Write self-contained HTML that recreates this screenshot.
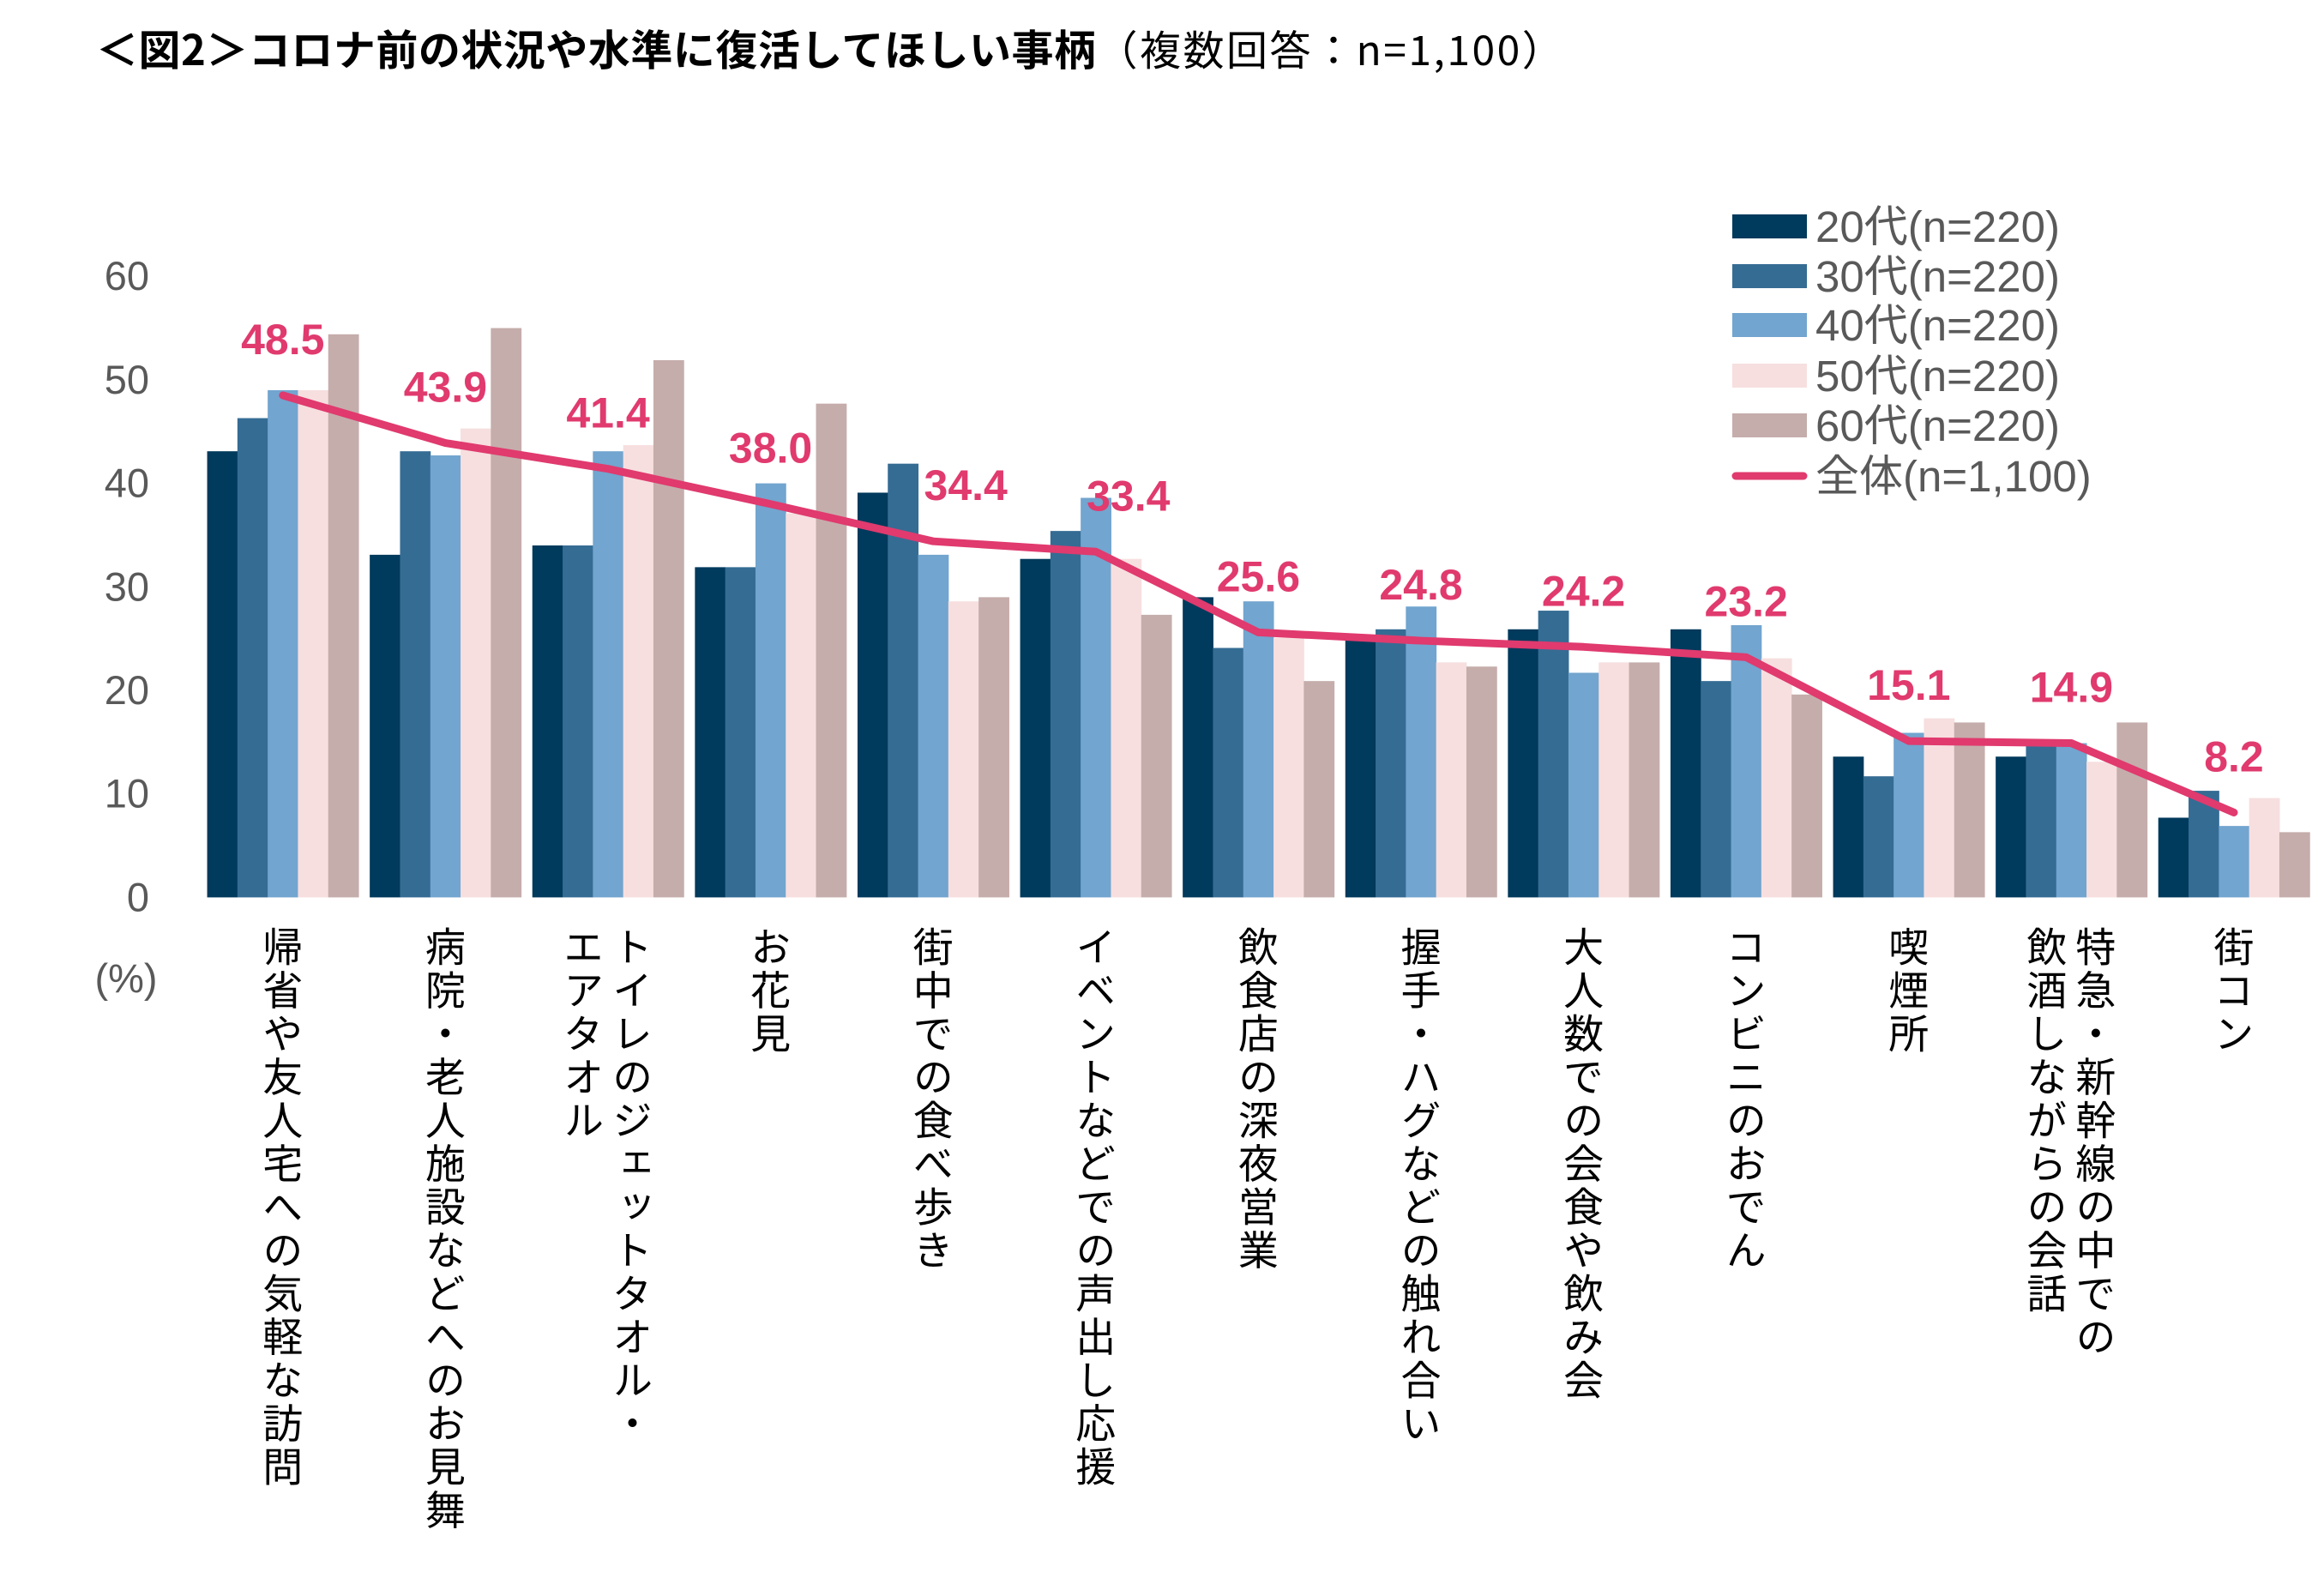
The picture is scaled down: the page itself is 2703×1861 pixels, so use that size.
<!DOCTYPE html>
<html><head><meta charset="utf-8">
<style>
html,body{margin:0;padding:0;background:#fff;}
#wrap{position:relative;width:2703px;height:1861px;overflow:hidden;font-family:"Liberation Sans","Noto Sans CJK JP",sans-serif;}
.cat{position:absolute;top:1080px;writing-mode:vertical-rl;font-size:47px;line-height:57px;letter-spacing:3.5px;color:#000;transform:translateX(-50%);white-space:nowrap;font-family:"Noto Sans CJK JP",sans-serif;}
</style></head>
<body>
<div id="wrap">
<div style="position:absolute;left:112px;top:20px;font-size:49px;font-weight:bold;white-space:nowrap;font-family:'Noto Sans CJK JP',sans-serif;letter-spacing:0.5px;">＜図2＞コロナ前の状況や水準に復活してほしい事柄<span style="font-weight:normal;font-size:48px;letter-spacing:2.5px;">（複数回答：n=1,100）</span></div>
<svg id="svg" width="2703" height="1861" style="position:absolute;left:0;top:0"></svg>
<div id="cats"></div>
</div>
<script>
const categories=["帰省や友人宅への気軽な訪問","病院・老人施設などへのお見舞","トイレのジェットタオル・\nエアタオル","お花見","街中での食べ歩き","イベントなどでの声出し応援","飲食店の深夜営業","握手・ハグなどの触れ合い","大人数での会食や飲み会","コンビニのおでん","喫煙所","特急・新幹線の中での\n飲酒しながらの会話","街コン"];
const s20=[43.1,33.1,34.0,31.9,39.1,32.7,29.0,25.0,25.9,25.9,13.6,13.6,7.7];
const s30=[46.3,43.1,34.0,31.9,41.9,35.4,24.1,25.9,27.7,20.9,11.7,14.9,10.3];
const s40=[49.0,42.7,43.1,40.0,33.1,38.6,28.6,28.1,21.7,26.3,15.9,14.9,6.9];
const s50=[49.0,45.3,43.7,37.1,28.6,32.7,25.1,22.7,22.7,23.1,17.3,13.1,9.6];
const s60=[54.4,55.0,51.9,47.7,29.0,27.3,20.9,22.3,22.7,19.6,16.9,16.9,6.3];
const total=[48.5,43.9,41.4,38.0,34.4,33.4,25.6,24.8,24.2,23.2,15.1,14.9,8.2];
const yTicks=[0,10,20,30,40,50,60];
const seriesNames=["20代(n=220)","30代(n=220)","40代(n=220)","50代(n=220)","60代(n=220)"];
const totalName="全体(n=1,100)";

const colors=["#003a5c","#356c94","#72a5cf","#f7dfdf","#c5adab"];
const lineColor="#e03a6e";
const NS="http://www.w3.org/2000/svg";
const svg=document.getElementById('svg');
const x0=235,band=189.6,y0=1046.4,perUnit=12.07;
const barW=35.3;
function yS(v){return y0-v*perUnit;}
function xC(i){return x0+band*(i+0.5);}
function mk(t,a){const e=document.createElementNS(NS,t);for(const k in a)e.setAttribute(k,a[k]);svg.appendChild(e);return e;}

yTicks.forEach(t=>{
  const e=mk('text',{x:174,y:yS(t)+16,'text-anchor':'end','font-size':47,fill:'#595959','font-family':'Liberation Sans, sans-serif'});
  e.textContent=t;
  
  
});
const pe=mk('text',{x:147,y:1157,'text-anchor':'middle','font-size':47,fill:'#595959','font-family':'Liberation Sans, sans-serif'});
pe.textContent='(%)';



const all=[s20,s30,s40,s50,s60];
categories.forEach((c,i)=>{
  all.forEach((s,k)=>{
    const x=xC(i)-2.5*barW+k*barW;
    const r=mk('rect',{x:x,y:yS(s[i]),width:barW+0.5,height:s[i]*perUnit,fill:colors[k]});
    
    
  });
});
let d='';
total.forEach((v,i)=>{d+=(i?'L':'M')+xC(i)+' '+yS(v);});
const ln=mk('path',{d:d,fill:'none',stroke:lineColor,'stroke-width':9,'stroke-linejoin':'round','stroke-linecap':'round'});


total.forEach((v,i)=>{
  const off=(i==4||i==5)?38:0;
  const t=mk('text',{x:xC(i)+off,y:yS(v)-48,'text-anchor':'middle','font-size':50,'font-weight':'bold',fill:lineColor,'font-family':'Liberation Sans, sans-serif'});
  t.textContent=v.toFixed(1);
  
  
});
// legend
const ly=[264,322,379,438,496,555];
seriesNames.forEach((n,k)=>{
  const r=mk('rect',{x:2020,y:ly[k]-14,width:87,height:28,fill:colors[k]});
  
  
  const t=mk('text',{x:2117,y:ly[k]+18,'font-size':51,fill:'#595959','font-family':'Liberation Sans, Noto Sans CJK JP, sans-serif'});
  t.textContent=n;
  
  
});
const ll=mk('line',{x1:2024,y1:ly[5],x2:2103,y2:ly[5],stroke:lineColor,'stroke-width':9,'stroke-linecap':'round'});


const lt=mk('text',{x:2117,y:ly[5]+18,'font-size':51,fill:'#595959','font-family':'Liberation Sans, Noto Sans CJK JP, sans-serif'});
lt.textContent=totalName;



const cd=document.getElementById('cats');
categories.forEach((c,i)=>{
  const e=document.createElement('div');
  e.className='cat';
  
  
  e.style.left=xC(i)+'px';
  e.innerHTML=c.split('\n').join('<br>');
  cd.appendChild(e);
});
</script>
</body></html>
